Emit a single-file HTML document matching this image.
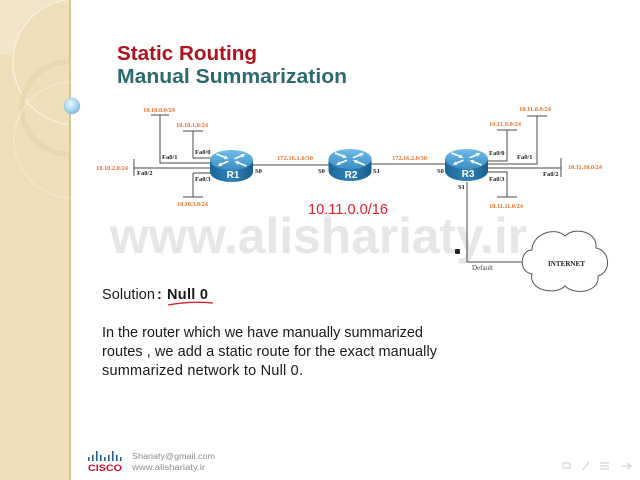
<!DOCTYPE html>
<html><head><meta charset="utf-8"><style>
html,body{margin:0;padding:0;background:#fff;}
svg{display:block}
</style></head><body>
<svg width="640" height="480" viewBox="0 0 640 480" xmlns="http://www.w3.org/2000/svg">
<defs>
<clipPath id="sb"><rect x="0" y="0" width="69" height="480"/></clipPath>
<linearGradient id="top" x1="0" y1="0" x2="0" y2="1"><stop offset="0" stop-color="#6fbde8"/><stop offset="1" stop-color="#3a8dc5"/></linearGradient>
<linearGradient id="side" x1="0" y1="0" x2="1" y2="0"><stop offset="0" stop-color="#1d6597"/><stop offset="0.5" stop-color="#2f83b8"/><stop offset="1" stop-color="#1b5c8c"/></linearGradient>
<radialGradient id="ball" cx="0.4" cy="0.35" r="0.7"><stop offset="0" stop-color="#eef8fd"/><stop offset="0.6" stop-color="#a9d5ef"/><stop offset="1" stop-color="#78b4d9"/></radialGradient>
<marker id="ah" viewBox="0 0 4 4" refX="2" refY="2" markerWidth="2.6" markerHeight="2.6" orient="auto"><path d="M0,0 L4,2 L0,4 z" fill="#fff"/></marker>
<g id="router">
 <path d="M-21.5,0 L-21.5,12 A21.5,10 0 0 0 21.5,12 L21.5,0 Z" fill="url(#side)"/>
 <ellipse cx="0" cy="0" rx="21.5" ry="10" fill="url(#top)"/>
 <g stroke="#fff" stroke-width="1.6" fill="none" marker-end="url(#ah)">
  <line x1="-15" y1="-6" x2="-5" y2="-2"/>
  <line x1="15" y1="6" x2="5" y2="2"/>
  <line x1="3" y1="-1.2" x2="12" y2="-5"/>
  <line x1="-3" y1="1.2" x2="-12" y2="5"/>
 </g>
</g>
</defs>

<!-- sidebar -->
<rect x="0" y="0" width="70" height="480" fill="#eedfba"/>
<g clip-path="url(#sb)">
 <path d="M0,0 L62,0 A62,62 0 0 0 14,55 L0,55 Z" fill="#f2e5c9"/>
 <circle cx="76" cy="62" r="63" fill="none" stroke="#f8efdb" stroke-width="1.5"/>
 <circle cx="68" cy="108" r="46" fill="none" stroke="#e8d7ae" stroke-width="5"/>
 <circle cx="72" cy="140" r="58" fill="none" stroke="#f4e9cf" stroke-width="1.2"/>
</g>
<rect x="69" y="0" width="2" height="480" fill="#d6c59c"/>
<circle cx="72" cy="106" r="8" fill="url(#ball)" stroke="#8cc0de" stroke-width="0.5"/>

<!-- watermark -->
<text x="110" y="253" font-family="Liberation Sans, sans-serif" font-weight="bold" font-size="50" fill="#e6e6e6" textLength="417" lengthAdjust="spacingAndGlyphs">www.alishariaty.ir</text>

<!-- title -->
<text x="117" y="60" font-family="Liberation Sans, sans-serif" font-weight="bold" font-size="20.5" fill="#b0121d" textLength="140" lengthAdjust="spacingAndGlyphs">Static Routing</text>
<text x="117" y="83" font-family="Liberation Sans, sans-serif" font-weight="bold" font-size="20.5" fill="#2b6a6e" textLength="230" lengthAdjust="spacingAndGlyphs">Manual Summarization</text>

<!-- diagram lines -->
<g stroke="#4a4a4a" stroke-width="1" fill="none">
 <path d="M151,115 H169 M160,115 V163 H212"/>
 <path d="M183,131 H203 M193,131 V158 H214"/>
 <path d="M134,159 V176 M134,168 H211"/>
 <path d="M193,173 H212 M193,173 V197 M183,197 H203"/>
 <path d="M253,165 H329"/>
 <path d="M371,164 H446"/>
 <path d="M497,130 H517 M507,130 V161 H486"/>
 <path d="M527,116 H547 M537,116 V164 H487"/>
 <path d="M487,168 H561 M561,158 V177"/>
 <path d="M486,172 H507 V197 M497,197 H517"/>
 <path d="M467,182 V262 H524"/>
</g>

<!-- cloud -->
<path d="M532,250 C520,250 518,272 532,274 C528,290 555,296 565,286 C575,296 600,292 598,276 C612,272 610,250 596,248 C598,232 575,226 565,236 C555,226 532,234 532,250 Z" fill="#fff" stroke="#555" stroke-width="1"/>
<text x="548" y="266" font-family="Liberation Serif, serif" font-weight="bold" font-size="7.5" fill="#222" textLength="37" lengthAdjust="spacingAndGlyphs">INTERNET</text>

<rect x="455" y="249" width="5" height="5" fill="#222" rx="1"/>

<!-- routers -->
<use href="#router" x="231.5" y="160"/>
<use href="#router" x="350" y="159"/>
<use href="#router" x="466.5" y="159"/>
<g font-family="Liberation Sans, sans-serif" font-weight="bold" font-size="10" fill="#fff" text-anchor="middle">
 <text x="233" y="178">R1</text>
 <text x="351" y="178">R2</text>
 <text x="468" y="177">R3</text>
</g>

<!-- network labels -->
<g font-family="Liberation Serif, serif" font-weight="bold" font-size="6.5" fill="#e8742e" lengthAdjust="spacingAndGlyphs">
 <text x="143" y="112" textLength="32">10.10.0.0/24</text>
 <text x="176" y="127" textLength="32">10.10.1.0/24</text>
 <text x="96" y="170" textLength="32">10.10.2.0/24</text>
 <text x="177" y="206" textLength="31">10.10.3.0/24</text>
 <text x="277" y="160" textLength="36">172.16.1.0/30</text>
 <text x="392" y="160" textLength="35">172.16.2.0/30</text>
 <text x="519" y="111" textLength="32">10.11.8.0/24</text>
 <text x="489" y="126" textLength="32">10.11.9.0/24</text>
 <text x="568" y="169" textLength="34">10.11.10.0/24</text>
 <text x="489" y="208" textLength="34">10.11.11.0/24</text>
</g>
<g font-family="Liberation Serif, serif" font-weight="bold" font-size="6.5" fill="#222">
 <text x="162" y="159">Fa0/1</text>
 <text x="195" y="154">Fa0/0</text>
 <text x="137" y="175">Fa0/2</text>
 <text x="195" y="181">Fa0/3</text>
 <text x="255" y="173">S0</text>
 <text x="318" y="173">S0</text>
 <text x="373" y="173">S1</text>
 <text x="437" y="173">S0</text>
 <text x="458" y="189">S1</text>
 <text x="489" y="155">Fa0/0</text>
 <text x="517" y="159">Fa0/1</text>
 <text x="543" y="176">Fa0/2</text>
 <text x="489" y="181">Fa0/3</text>
</g>
<text x="472" y="270" font-family="Liberation Serif, serif" font-size="7" fill="#444" textLength="21" lengthAdjust="spacingAndGlyphs">Default</text>

<!-- handwritten -->
<text x="308" y="214" font-family="Liberation Sans, sans-serif" font-size="15" fill="#e0202a" textLength="80" lengthAdjust="spacingAndGlyphs">10.11.0.0/16</text>

<!-- solution -->
<g font-family="Liberation Sans, sans-serif" font-size="14.5" fill="#1a1a1a" lengthAdjust="spacingAndGlyphs">
 <text x="102" y="299" textLength="53">Solution</text>
 <text x="157" y="299" font-weight="bold">:</text>
 <text x="167" y="299" font-weight="bold" textLength="41">Null 0</text>
 <text x="102" y="337" textLength="321">In the router which we have manually summarized</text>
 <text x="102" y="356" textLength="335">routes , we add a static route for the exact manually</text>
 <text x="102" y="375" textLength="201">summarized network to Null 0.</text>
</g>
<path d="M168,305 Q190,301 213,303" fill="none" stroke="#d8202a" stroke-width="1.3"/>

<!-- footer -->
<g fill="#1f5f93">
 <rect x="88" y="457" width="1.6" height="4"/>
 <rect x="92" y="455" width="1.6" height="6"/>
 <rect x="96" y="451" width="1.6" height="10"/>
 <rect x="100" y="455" width="1.6" height="6"/>
 <rect x="104" y="457" width="1.6" height="4"/>
 <rect x="108" y="455" width="1.6" height="6"/>
 <rect x="112" y="451" width="1.6" height="10"/>
 <rect x="116" y="455" width="1.6" height="6"/>
 <rect x="120" y="457" width="1.6" height="4"/>
</g>
<text x="88" y="471" font-family="Liberation Sans, sans-serif" font-weight="bold" font-size="9" fill="#c8102e" textLength="34" lengthAdjust="spacingAndGlyphs">CISCO</text>
<text x="132" y="459" font-family="Liberation Sans, sans-serif" font-size="8" fill="#8a8a8a" textLength="83" lengthAdjust="spacingAndGlyphs">Shariaty@gmail.com</text>
<text x="132" y="470" font-family="Liberation Sans, sans-serif" font-size="8" fill="#8a8a8a" textLength="73" lengthAdjust="spacingAndGlyphs">www.alishariaty.ir</text>

<!-- nav icons -->
<g fill="none" stroke="#d4d4d4" stroke-width="1.2">
 <rect x="563" y="463" width="7" height="5" rx="1"/>
 <line x1="583" y1="470" x2="589" y2="462"/>
 <path d="M600,463 H609 M600,466 H609 M600,469 H609"/>
 <path d="M622,466 H630 M627,463 L631,466 L627,469"/>
</g>
</svg>
</body></html>
